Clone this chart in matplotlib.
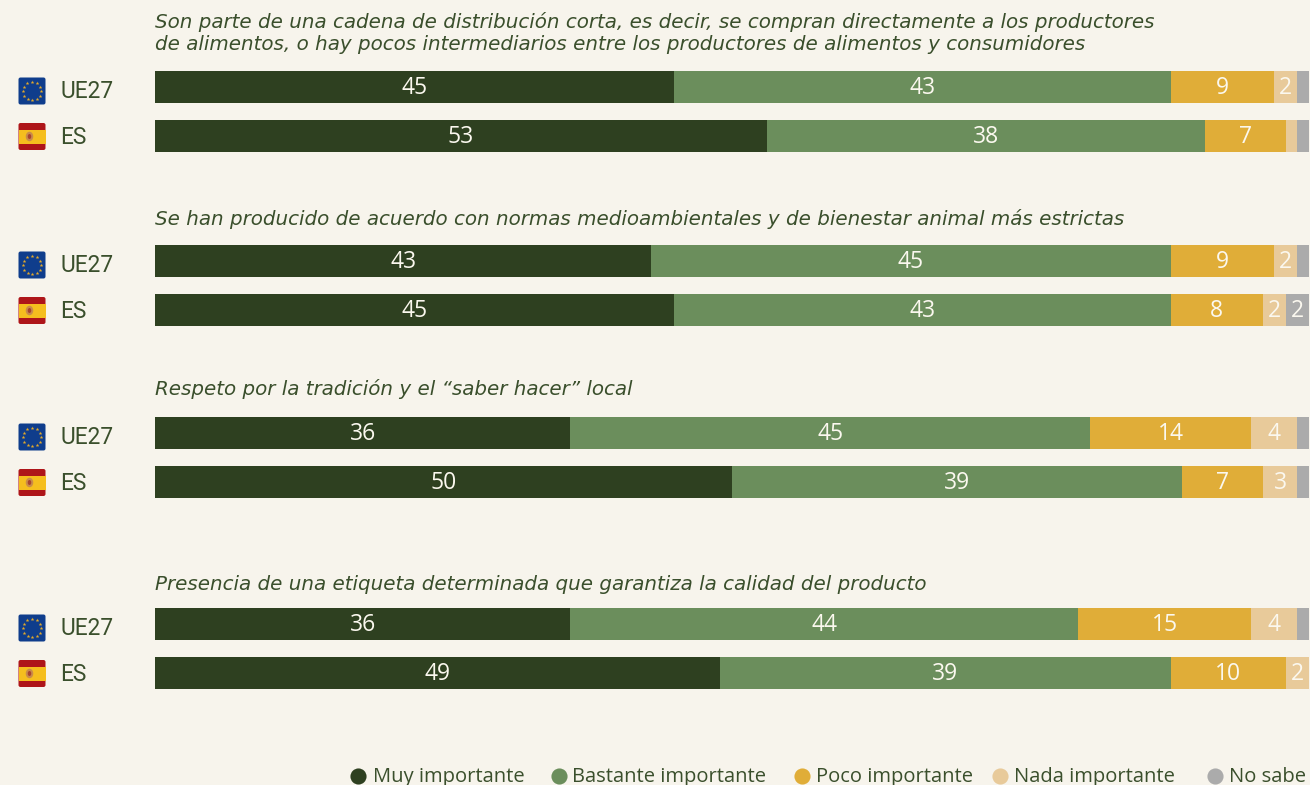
import numpy as np
import matplotlib
matplotlib.use('Agg')
import matplotlib.pyplot as plt
from matplotlib.patches import FancyBboxPatch, Rectangle, Ellipse

# Each list follows the row order: UE27 / ES for each of the four questions
categories = ['Muy importante', 'Bastante importante', 'Poco importante', 'Nada importante', 'No sabe']
muy = [45, 53, 43, 45, 36, 50, 36, 49]
bastante = [43, 38, 45, 43, 45, 39, 44, 39]
poco = [9, 7, 9, 8, 14, 7, 15, 10]
nada = [2, 1, 2, 2, 4, 3, 4, 2]
no_sabe = [1, 1, 1, 2, 1, 1, 1, 0]
row_labels = ['UE27', 'ES'] * 4
questions = [
    'Son parte de una cadena de distribución corta, es decir, se compran directamente a los productores\n'
    'de alimentos, o hay pocos intermediarios entre los productores de alimentos y consumidores',
    'Se han producido de acuerdo con normas medioambientales y de bienestar animal más estrictas',
    'Respeto por la tradición y el “saber hacer” local',
    'Presencia de una etiqueta determinada que garantiza la calidad del producto',
]

BG = '#F7F4EC'
TEXT = '#3A4F2C'
colors = ['#2E4020', '#6B8E5C', '#E0AD38', '#E8CA9A', '#ABABAB']
W, H = 1310, 785

# pixel layout
row_y = [87, 136, 261, 310, 433, 482, 624, 673]
question_y = [33, 219, 389, 584]
legend_x = [358, 559, 802, 1000, 1215]
legend_text_x = [373, 572, 816, 1014, 1229]

fig = plt.figure(figsize=(W / 100, H / 100), dpi=100, facecolor=BG)

# bars live in an axes spanning 0-100 across the plot width
ax = fig.add_axes([155 / W, 0, (1309 - 155) / W, 1])
ax.set_xlim(0, 100)
ax.set_ylim(H, 0)
ax.axis('off')

overlay = fig.add_axes([0, 0, 1, 1])
overlay.set_xlim(0, W)
overlay.set_ylim(H, 0)
overlay.axis('off')
overlay.patch.set_alpha(0)

series = [muy, bastante, poco, nada, no_sabe]
left = np.zeros(len(row_y))
for vals, color in zip(series, colors):
    vals = np.array(vals)
    ax.barh(row_y, vals, left=left, height=32, color=color, edgecolor='none')
    for y, l, v in zip(row_y, left, vals):
        if v >= 2:
            ax.text(l + v / 2, y + 1, str(v), ha='center', va='center', color='#FBF8EF',
                    fontsize=16.5, family='Open Sans')
    left = left + vals


def draw_eu_flag(x, y):
    overlay.add_patch(FancyBboxPatch((x + 2, y + 2), 23, 23, boxstyle='round,pad=2', fc='#0F3D8C', ec='none'))
    ang = np.arange(12) * np.pi / 6
    overlay.scatter(x + 13.5 + 9 * np.cos(ang), y + 13.5 + 9 * np.sin(ang), marker='*', s=8,
                    color='#E3A92A', linewidths=0)


def draw_es_flag(x, y):
    overlay.add_patch(FancyBboxPatch((x + 2, y + 2), 23, 23, boxstyle='round,pad=2', fc='#AE1519', ec='none'))
    overlay.add_patch(Rectangle((x, y + 7), 27, 13.5, fc='#F5BE1E', ec='none'))
    overlay.add_patch(Ellipse((x + 11, y + 13.5), 7.5, 9.5, fc='#C98A4A', ec='none'))
    overlay.add_patch(Ellipse((x + 11, y + 13.5), 3.5, 5, fc='#A8432F', ec='none'))


for y, lab in zip(row_y, row_labels):
    if lab == 'UE27':
        flag_y = y - 9.5
        draw_eu_flag(18.5, flag_y)
    else:
        flag_y = y - 13
        draw_es_flag(18.5, flag_y)
    overlay.text(60, flag_y + 14.2, lab, ha='left', va='center', color=TEXT, fontsize=16.4, family='Roboto')

for y, q in zip(question_y, questions):
    overlay.text(155, y, q, ha='left', va='center', color=TEXT, fontsize=14.35, family='DejaVu Sans',
                 style='italic', linespacing=1.16)

for cx, tx, name, color in zip(legend_x, legend_text_x, categories, colors):
    overlay.scatter([cx], [776], s=135, color=color, linewidths=0)
    overlay.text(tx, 777, name, ha='left', va='center', color=TEXT, fontsize=14.5, family='Open Sans')

fig.savefig('out.png', dpi=100, facecolor=BG)
plt.close(fig)
